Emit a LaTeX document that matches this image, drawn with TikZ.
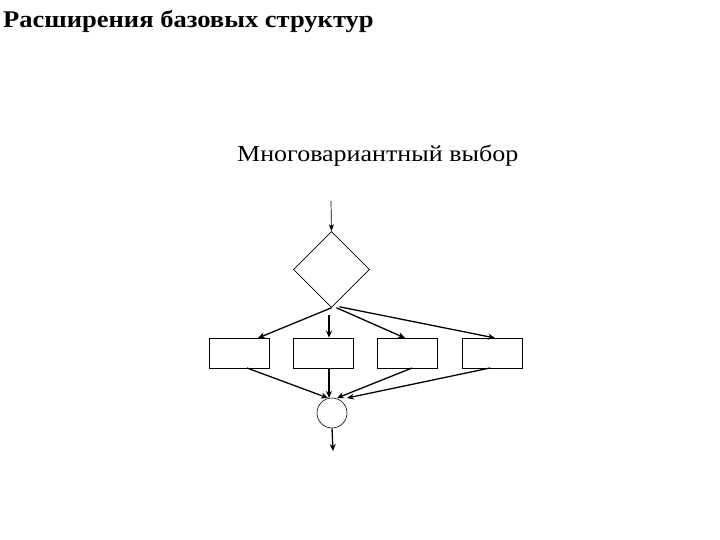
\documentclass[tikz,border=0pt]{standalone}
\usepackage{fontspec}
\setmainfont{Liberation Serif}
\newfontfamily\titlefont[FakeStretch=1.11]{Liberation Serif}
\newfontfamily\subfont[FakeStretch=1.135]{Liberation Serif}
\usetikzlibrary{shapes.geometric,arrows.meta}
\begin{document}
\begin{tikzpicture}[x=1bp,y=-1bp,
  arr/.style={line width=1.3bp,-{Stealth[length=7bp,width=6bp]}},
  thinarr/.style={line width=0.7bp,-{Stealth[length=7bp,width=5bp]}},
  box/.style={draw,line width=0.7bp,minimum width=60bp,minimum height=30bp,inner sep=0pt},
]
\useasboundingbox (0,0) rectangle (720,540);
\node[anchor=base west,inner sep=0pt,font=\titlefont\fontsize{24}{28}\selectfont\bfseries] (title) at (3,28) {Расширения базовых структур};
\node[anchor=base west,inner sep=0pt,font=\subfont\fontsize{23}{27}\selectfont] (sub) at (237,162) {Многовариантный выбор};
\coordinate (start) at (331,201);
\node[draw,line width=0.6bp,diamond,minimum width=76bp,minimum height=76bp,inner sep=0pt,aspect=1] (d) at (331.5,269.5) {};
\node[box] (b1) at (239,353) {};
\node[box] (b2) at (323,353) {};
\node[box] (b3) at (407.5,353) {};
\node[box] (b4) at (492,353) {};
\node[draw,circle,line width=0.6bp,minimum size=30bp,inner sep=0pt] (c) at (332,413) {};
\coordinate (end) at (333,451);
\coordinate (e2) at (329,315);
\draw[thinarr] (start) -- (d.north);
\draw[arr] (d.south) -- (258,338);
\draw[arr] (e2) -- (b2.north -| e2);
\draw[arr] (d.south) ++(5,0) -- (405,338);
\draw[arr] (d.south) ++(8,-1) -- (495,338);
\draw[arr] (247,368) -- (328,398);
\draw[arr] (b2.south -| e2) -- (329,398);
\draw[arr] (412,368) -- (337,398);
\draw[arr] (490,368) -- (347,398);
\draw[arr] (c.south) -- (end);
\end{tikzpicture}
\end{document}
